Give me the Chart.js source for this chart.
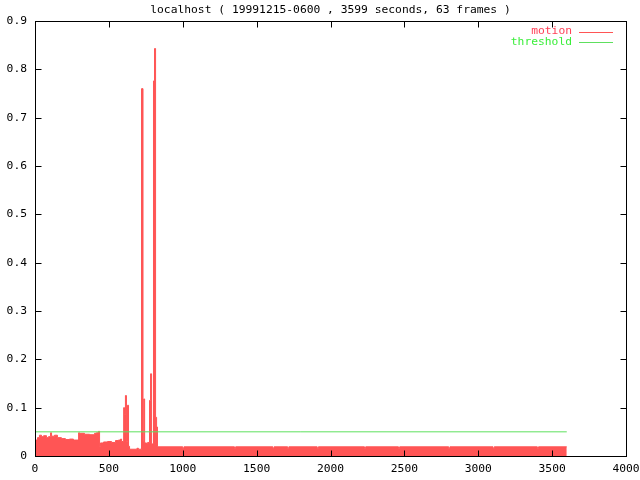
<!DOCTYPE html>
<html>
<head>
<meta charset="utf-8">
<script src="https://cdn.jsdelivr.net/npm/chart.js@4"></script>
<style>
  html, body { margin: 0; padding: 0; background: #fff; }
</style>
</head>
<body>
<canvas id="grafica" width="640" height="480"></canvas>
<script>
// datos
const titulo = 'localhost ( 19991215-0600 , 3599 seconds, 63 frames )';
const etiquetas = ['motion', 'threshold'];

const motionTime = [
  0, 5, 17, 30, 44, 58, 78, 91, 105, 112,
  132, 152, 179, 206, 233, 260, 295, 301, 335, 370,
  403, 416, 430, 437, 443, 464, 491, 518, 545, 565,
  579, 586, 600, 606, 612, 619, 626, 633, 640, 690,
  700, 721, 731, 736, 742, 755, 762, 775, 782, 789,
  802, 809, 816, 823, 829, 1000, 1008, 1350, 1358, 1610,
  1618, 1710, 1718, 1910, 1918, 2230, 2238, 2460, 2468, 2800,
  2808, 3100, 3108, 3400, 3408, 3599
];
const motionValue = [
  0.015, 0.033, 0.038, 0.043, 0.040, 0.042, 0.038, 0.040, 0.048, 0.041,
  0.043, 0.038, 0.036, 0.034, 0.035, 0.033, 0.048, 0.047, 0.045, 0.044,
  0.047, 0.048, 0.051, 0.020, 0.027, 0.029, 0.030, 0.028, 0.032, 0.033,
  0.035, 0.030, 0.100, 0.085, 0.125, 0.030, 0.105, 0.020, 0.014, 0.016,
  0.014, 0.760, 0.030, 0.118, 0.027, 0.025, 0.028, 0.115, 0.170, 0.025,
  0.776, 0.843, 0.080, 0.060, 0.019, 0.016, 0.019, 0.016, 0.019, 0.016,
  0.019, 0.016, 0.019, 0.016, 0.019, 0.016, 0.019, 0.016, 0.019, 0.016,
  0.019, 0.016, 0.019, 0.016, 0.019, 0.019
];

const thresholdTime = [0, 3599];
const thresholdValue = [0.05, 0.05];

const xMin = 0, xMax = 4000, xStep = 500;
const yMin = 0, yMax = 0.9, yStep = 0.1;

const colorMotion = '#ff5555';
const colorMotionTexto = '#ff3f55';
const colorThreshold = '#5ee05e';
const colorThresholdTexto = '#3aee3a';

const fuente = "'DejaVu Sans Mono', monospace";
Chart.defaults.font.family = fuente;
Chart.defaults.font.size = 11.3;
Chart.defaults.color = '#000';

function aPuntos(xs, ys) {
  return xs.map((x, i) => ({ x: x, y: ys[i] }));
}

// marco, ticks hacia dentro, titulo y leyenda estilo gnuplot
const estiloGnuplot = {
  id: 'estiloGnuplot',
  afterDraw(chart) {
    const ctx = chart.ctx;
    const a = chart.chartArea;
    const L = Math.floor(a.left) + 0.5;
    const R = Math.floor(a.right) + 0.5;
    const T = Math.floor(a.top) + 0.5;
    const B = Math.floor(a.bottom) + 0.5;
    const largo = 6;

    ctx.save();
    ctx.strokeStyle = '#000';
    ctx.lineWidth = 1;
    ctx.strokeRect(L, T, R - L, B - T);

    ctx.beginPath();
    chart.scales.x.ticks.forEach(t => {
      const px = Math.round(chart.scales.x.getPixelForValue(t.value)) + 0.5;
      ctx.moveTo(px, B); ctx.lineTo(px, B - largo);
      ctx.moveTo(px, T); ctx.lineTo(px, T + largo);
    });
    chart.scales.y.ticks.forEach(t => {
      const py = Math.round(chart.scales.y.getPixelForValue(t.value)) + 0.5;
      ctx.moveTo(L, py); ctx.lineTo(L + largo, py);
      ctx.moveTo(R, py); ctx.lineTo(R - largo, py);
    });
    ctx.stroke();

    // titulo
    ctx.font = '11.3px ' + fuente;
    ctx.fillStyle = '#000';
    ctx.textAlign = 'center';
    ctx.textBaseline = 'middle';
    ctx.fillText(titulo, (a.left + a.right) / 2, 10.5);

    // leyenda
    const colores = [colorMotion, colorThreshold];
    const coloresTexto = [colorMotionTexto, colorThresholdTexto];
    etiquetas.forEach((et, i) => {
      const y = 31.5 + i * 10.7;
      ctx.textAlign = 'right';
      ctx.fillStyle = coloresTexto[i];
      ctx.fillText(et, 572, y);
      ctx.beginPath();
      ctx.strokeStyle = colores[i];
      ctx.moveTo(579, Math.round(y) + 0.5);
      ctx.lineTo(613, Math.round(y) + 0.5);
      ctx.stroke();
    });
    ctx.restore();
  }
};

const ctx = document.getElementById('grafica').getContext('2d');
const grafica = new Chart(ctx, {
  type: 'line',
  data: {
    datasets: [
      {
        label: etiquetas[1],
        data: aPuntos(thresholdTime, thresholdValue),
        borderColor: colorThreshold,
        borderWidth: 1,
        pointRadius: 0,
        fill: false,
        order: 0
      },
      {
        label: etiquetas[0],
        data: aPuntos(motionTime, motionValue),
        borderColor: colorMotion,
        backgroundColor: colorMotion,
        borderWidth: 1,
        pointRadius: 0,
        stepped: 'before',   // cada valor se mantiene hasta el siguiente tiempo
        fill: 'origin',
        order: 1
      }
    ]
  },
  options: {
    responsive: false,
    animation: false,
    layout: { padding: { top: 21, right: 14, left: 0, bottom: 0 } },
    plugins: {
      legend: { display: false },
      tooltip: { enabled: false },
      title: { display: false }
    },
    scales: {
      x: {
        type: 'linear',
        min: xMin,
        max: xMax,
        ticks: {
          stepSize: xStep,
          padding: 6,
          maxRotation: 0,
          autoSkip: false,
          callback: v => String(v)
        },
        grid: { drawOnChartArea: false, drawTicks: false },
        border: { display: false },
        afterFit: s => {
          s.height = 24;
          s.paddingLeft = 0;
          s.paddingRight = 0;
        }
      },
      y: {
        min: yMin,
        max: yMax,
        ticks: {
          stepSize: yStep,
          padding: 8,
          callback: v => String(Math.round(v * 10) / 10)
        },
        grid: { drawOnChartArea: false, drawTicks: false },
        border: { display: false },
        afterFit: s => {
          s.width = 35;
          s.paddingTop = 0;
          s.paddingBottom = 0;
        }
      }
    }
  },
  plugins: [estiloGnuplot]
});
</script>
</body>
</html>
